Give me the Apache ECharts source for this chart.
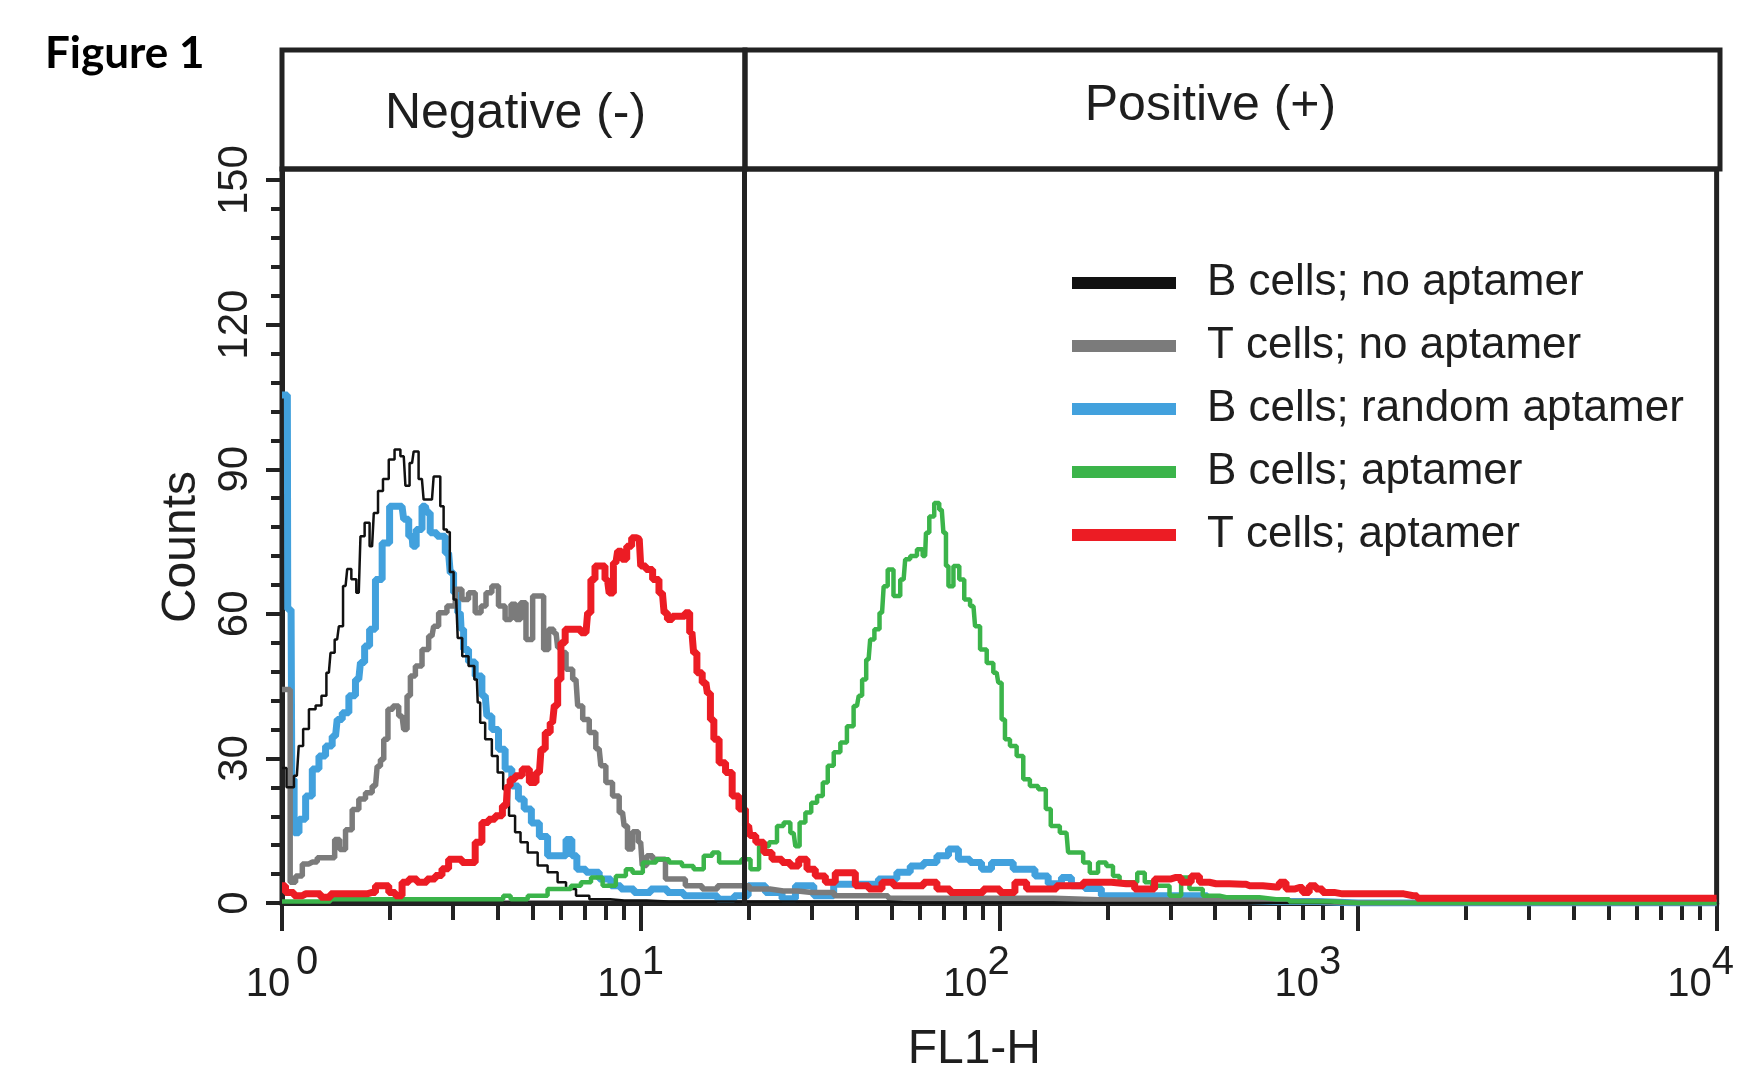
<!DOCTYPE html>
<html>
<head>
<meta charset="utf-8">
<title>Figure 1</title>
<script src="https://cdn.jsdelivr.net/npm/echarts@6/dist/echarts.min.js"></script>
<style>
  html, body { margin: 0; padding: 0; background: #fff; }
  #chart { width: 1737px; height: 1079px; }
</style>
</head>
<body>
<div id="chart"></div>
<script>
// FL1-H histogram values: [FL1-H, counts]
var bNoApt = [
  [1.0, 28], [1.06, 24], [1.10, 26.4], [1.127, 32.6], [1.164, 36.1], [1.214, 40.2], [1.268, 41.0],
  [1.309, 43], [1.351, 47.8], [1.38, 51.9], [1.425, 54.7], [1.456, 57.4], [1.504, 65.8], [1.536, 69.3],
  [1.586, 67.2], [1.637, 64.4], [1.673, 76.1], [1.727, 78.9], [1.783, 74], [1.823, 80.9], [1.882, 85.5],
  [1.943, 88.0], [2.027, 92.0], [2.093, 94.1], [2.185, 92.7], [2.232, 86.6], [2.305, 91.3], [2.353, 93.7],
  [2.455, 88], [2.51, 83.7], [2.619, 83.7], [2.676, 88.5], [2.734, 88.5], [2.792, 82.3], [2.853, 77.5],
  [2.914, 77], [2.96, 68.7], [3.06, 63], [3.12, 55], [3.243, 51.2], [3.383, 49.2], [3.494, 46.4],
  [3.532, 41.6], [3.607, 37.4], [3.765, 34.0], [3.93, 30.5], [4.056, 27.1], [4.22, 23.6], [4.373, 18.1],
  [4.56, 14.7], [4.69, 12.6], [5.0, 10.5], [5.33, 7.8], [5.68, 6.4], [6.06, 4.3], [6.33, 2.9], [6.89, 1.5],
  [7.51, 0.8], [9, 0.5], [12, 0.3], [40, 0.3], [60, 0], [10000, 0]
];
var tNoApt = [
  [1.0, 44.3], [1.04, 44.3], [1.068, 4.3], [1.115, 5.6], [1.164, 8.1], [1.214, 8.5], [1.295, 9.4],
  [1.38, 9.4], [1.425, 13.2], [1.472, 11.1], [1.536, 15.2], [1.603, 19.4], [1.673, 21.6], [1.746, 22.9],
  [1.823, 24.3], [1.862, 28.4], [1.901, 29.8], [1.943, 34], [2.006, 40.2], [2.071, 40.9], [2.161, 38.8],
  [2.208, 36], [2.256, 43], [2.305, 47.1], [2.405, 49.2], [2.51, 52.6], [2.619, 55.4], [2.676, 57.4],
  [2.792, 60.2], [2.977, 61.6], [3.107, 65.1], [3.243, 63], [3.383, 64.4], [3.532, 60.2], [3.647, 61.6],
  [3.765, 64.4], [3.93, 65.8], [4.10, 61.6], [4.28, 58.8], [4.42, 62], [4.56, 58.8], [4.69, 62.3],
  [4.89, 54.7], [5.11, 63.7], [5.28, 63.7], [5.45, 52.6], [5.63, 56.8], [5.81, 56], [5.93, 53],
  [6.06, 52], [6.33, 48.5], [6.60, 46.4], [6.75, 40.9], [7.04, 38.1], [7.34, 35.4], [7.66, 32],
  [7.83, 28.5], [8.17, 25], [8.53, 22.2], [8.90, 18.8], [9.09, 16], [9.29, 11.2], [9.70, 14.8],
  [10.0, 12.6], [10.2, 7.8], [10.6, 9.8], [11.0, 9.1], [12.5, 5], [14.2, 3.6], [15.5, 2.9], [17.3, 3.6],
  [19.2, 3.6], [21, 2.9], [25, 2.5], [30, 2.2], [40, 1.5], [60, 1], [100, 1], [200, 0.6], [400, 0.5],
  [600, 0.3], [1000, 0], [10000, 0]
];
var bRandApt = [
  [1.0, 105.4], [1.035, 105.4], [1.04, 60.9], [1.06, 60.9], [1.07, 25.7], [1.092, 14.6], [1.139, 17.4],
  [1.189, 22.2], [1.241, 27.8], [1.295, 30.5], [1.351, 32.6], [1.41, 34.6], [1.441, 38.1], [1.504, 39.5],
  [1.569, 43], [1.637, 46.4], [1.673, 49.9], [1.727, 53.3], [1.783, 56.8], [1.862, 67.1], [1.943, 74.7],
  [2.049, 82.3], [2.161, 82.3], [2.208, 79.6], [2.305, 76.1], [2.329, 74.0], [2.405, 77.5], [2.51, 82.3],
  [2.56, 81], [2.619, 76.8], [2.792, 76.1], [2.914, 72.6], [2.977, 68.5], [3.041, 64.4], [3.141, 60.2],
  [3.175, 56.8], [3.243, 52.6], [3.383, 50], [3.532, 47.1], [3.687, 43], [3.765, 38.8], [3.93, 36],
  [4.10, 31.9], [4.28, 27.8], [4.467, 24.3], [4.66, 21.6], [4.81, 19.5], [5.11, 16.6], [5.33, 13.8],
  [5.68, 9.8], [6.06, 9.8], [6.33, 13.2], [6.53, 9.8], [6.75, 7], [7.34, 6.4], [8.0, 5], [8.53, 3.6],
  [9.09, 2.9], [10.1, 2.2], [11.25, 2.9], [12.5, 2.2], [13.9, 1.5], [15.5, 1.5], [17.3, 0.8], [19.2, 1.5],
  [20.7, 3.6], [24.0, 2.2], [25.6, 0.9], [28.5, 3.6], [32.4, 1.5], [36.8, 3.9], [42.7, 3.9], [49.6, 5.0],
  [54.1, 6.4], [58.9, 7.7], [64.2, 8.4], [69.9, 9.8], [74.5, 11.2], [79.4, 9.1], [86.5, 8.4], [92, 7],
  [98.3, 8.4], [107, 8.4], [111.7, 7.0], [121.7, 7.0], [129.8, 5.6], [144.3, 4], [153.9, 5.3], [164, 3.6],
  [182.6, 3], [203, 1.5], [361.5, 1.5], [400, 0.5], [600, 0.3], [1000, 0], [10000, 0]
];
var bApt = [
  [1.0, 0.3], [1.86, 0.8], [4.0, 0.8], [4.28, 1.5], [4.4, 0.8], [5.33, 1.5], [5.68, 2.9], [6.19, 2.9],
  [6.60, 3.6], [7.04, 4.3], [7.51, 5.3], [8.17, 3.6], [8.90, 5.6], [9.29, 7], [9.70, 6.3], [10.6, 8.4],
  [11.5, 9.1], [12.5, 8.4], [13.6, 7.7], [14.5, 7], [15.5, 9.8], [16.2, 10.5], [16.9, 8.4], [18.4, 8.4],
  [19.8, 9.1], [20.7, 7], [22.1, 11.8], [23.5, 12.6], [24.5, 16], [25.6, 16.7], [26.7, 14.5], [27.3, 11.8],
  [28.2, 16.7], [29.4, 18.8], [30.4, 20.8], [31.7, 22.2], [32.7, 25], [33.8, 28.5], [35.3, 31.3],
  [36.8, 33.3], [38.4, 36.7], [40.1, 40.9], [41.0, 43], [41.9, 46.4], [43.2, 50.5], [44.1, 54.7],
  [45.6, 56.8], [47.1, 60.2], [48.1, 65.7], [49.6, 69.2], [51.8, 63.7], [54.1, 67.1], [55.2, 71.3],
  [57.7, 72], [60.2, 73.4], [62.1, 72], [62.8, 76.8], [64.8, 80.2], [66.9, 83], [69.1, 81.6], [70.6, 76.8],
  [71.4, 69.9], [72.9, 65.7], [76.1, 69.9], [78.6, 67.1], [81.1, 63], [84.7, 61.6], [86.5, 57.4],
  [90.3, 52.6], [94.2, 49.8], [98.3, 47.8], [100.4, 45.7], [102.6, 38.1], [104.8, 34], [109.4, 32.6],
  [114.2, 30.5], [119.1, 25.7], [124.3, 24.3], [132.6, 23.6], [137, 19.5], [141.3, 16.0], [153.9, 14.6],
  [157.2, 10.5], [167.7, 10.5], [175, 8.4], [182.6, 6.3], [194.6, 8.4], [203, 7.7], [212, 5.6], [221, 4.3],
  [236, 4.3], [249, 6.3], [260, 4.3], [274, 3.6], [286, 3.6], [311, 1.5], [332, 5.3], [346, 2.9],
  [394, 1.5], [429, 1.2], [477, 1.2], [591, 0.8], [700, 0.3], [1000, 0], [10000, 0]
];
var tApt = [
  [1.0, 3.6], [1.046, 2.2], [1.115, 1.5], [1.164, 1.9], [1.241, 1.9], [1.323, 1.2], [1.41, 1.9],
  [1.504, 1.9], [1.673, 1.9], [1.783, 2.2], [1.862, 3.6], [1.943, 3.6], [2.027, 2.2], [2.116, 1.5],
  [2.208, 4.3], [2.305, 5.0], [2.455, 4.3], [2.619, 5.0], [2.734, 5.7], [2.853, 7.1], [2.977, 9.1],
  [3.107, 9.1], [3.243, 8.4], [3.383, 8.4], [3.532, 12.6], [3.687, 16.7], [3.846, 17.4], [4.015, 18.1],
  [4.22, 20.2], [4.28, 24.3], [4.373, 25.7], [4.56, 26.4], [4.79, 27.8], [5.0, 25], [5.22, 27.1],
  [5.33, 31.9], [5.51, 35.4], [5.68, 37.4], [5.81, 41], [5.93, 46.4], [6.06, 54], [6.26, 56.8],
  [6.60, 56.8], [7.04, 56.1], [7.19, 60.2], [7.34, 67.1], [7.58, 69.9], [7.83, 69.9], [8.08, 67.1],
  [8.26, 64.3], [8.53, 70.6], [8.72, 73], [9.0, 71.3], [9.29, 74], [9.59, 75.8], [9.91, 75.5],
  [10.1, 69.9], [10.6, 69.2], [11.0, 67.1], [11.5, 64.3], [11.75, 60.2], [12.0, 58.8], [12.5, 59.5],
  [13.1, 59.5], [13.5, 60.2], [13.9, 56.1], [14.2, 51.9], [14.5, 47.8], [15.2, 45.7], [15.5, 43.5],
  [15.8, 38], [16.2, 34], [16.9, 29.1], [17.6, 27.1], [18.4, 22.2], [19.2, 19.5], [20.0, 16], [20.3, 14],
  [21.6, 12.6], [22.5, 10.5], [24.0, 9.1], [25.6, 8.4], [26.7, 7.7], [28.5, 9.1], [29.7, 7.0], [31.7, 5.6],
  [33.8, 4.3], [36.0, 6.3], [38.4, 6.3], [41.0, 3.6], [45.6, 2.9], [48.6, 4.3], [52.9, 3.6], [58.9, 3.6],
  [64.2, 4.3], [69.9, 2.9], [76.1, 2.2], [86.5, 2.2], [94.2, 2.9], [107, 2.2], [114.2, 4.3], [124.3, 2.9],
  [132.5, 2.9], [157.2, 3.6], [186.6, 4.3], [226, 4.0], [251.5, 2.9], [292, 5.0], [311, 5.3], [332, 4.3],
  [354, 5.6], [369, 4.3], [402, 4.0], [477, 3.9], [498, 3.6], [591, 3.3], [616.6, 4.3], [643.6, 2.9],
  [686, 3.2], [716, 2.2], [747, 3.6], [780, 2.9], [814, 2.2], [905, 1.9], [1262, 1.9], [1426, 1.5],
  [1500, 1.0], [10000, 1.0]
];

var seriesNames = ['B cells; no aptamer', 'T cells; no aptamer', 'B cells; random aptamer', 'B cells; aptamer', 'T cells; aptamer'];
var regionNames = ['Negative (-)', 'Positive (+)'];
var gateValue = 19.4;          // Negative / Positive boundary on FL1-H
var xRange = [1, 10000];
var yMax = 152.3;
var yMajorTicks = [0, 30, 60, 90, 120, 150];
var yMinorTicks = [6, 12, 18, 24, 36, 42, 48, 54, 66, 72, 78, 84, 96, 102, 108, 114, 126, 132, 138, 144];
var xMinorTicks = [2, 3, 4, 5, 6, 7, 8, 9, 20, 30, 40, 50, 60, 70, 80, 90,
  200, 300, 400, 500, 600, 700, 800, 900, 2000, 3000, 4000, 5000, 6000, 7000, 8000, 9000];

var FONT = '"Liberation Sans", Arial, Helvetica, sans-serif';
var INK = '#1e1e1e';
var colors = { bNoApt: '#111111', tNoApt: '#7b7b7b', bRandApt: '#42a1dd', bApt: '#3bb44a', tApt: '#ec1c24' };

var myChart = echarts.init(document.getElementById('chart'), null, { renderer: 'canvas' });

function histSeries(name, data, color, width) {
  return {
    name: name,
    type: 'line',
    xAxisIndex: 0,
    yAxisIndex: 0,
    data: data,
    step: 'middle',
    showSymbol: false,
    symbol: 'none',
    lineStyle: { color: color, width: width },
    itemStyle: { color: color },
    emphasis: { disabled: true }
  };
}

// superscript exponent styles, each nudged like the original labels
var expPad = { e0: [0, 0, 22, 6], e1: [0, 20, 22, 0], e2: [0, 46, 22, 0], e3: [0, 100, 22, 0], e4: [0, 32, 22, 0] };
var richX = { n: { fontSize: 40, fontFamily: FONT, color: INK, verticalAlign: 'bottom' } };
Object.keys(expPad).forEach(function (k) {
  richX[k] = { fontSize: 40, fontFamily: FONT, color: INK, verticalAlign: 'bottom', padding: expPad[k] };
});

var option = {
  animation: false,
  backgroundColor: '#ffffff',
  title: {
    text: 'Figure 1',
    left: 40,
    top: 27,
    textStyle: { fontFamily: 'Lato, "Open Sans", sans-serif', fontWeight: 'bold', fontSize: 44, color: '#000' }
  },
  legend: {
    data: seriesNames,
    orient: 'vertical',
    left: 1072,
    top: 261,
    padding: 0,
    itemWidth: 104,
    itemHeight: 12,
    itemGap: 19,
    icon: 'rect',
    selectedMode: false,
    textStyle: { fontFamily: FONT, fontSize: 44, color: INK, lineHeight: 44, padding: [0, 0, 0, 26] }
  },
  grid: [
    { left: 282, right: 17, top: 169, bottom: 175, show: true, borderColor: '#222', borderWidth: 5, backgroundColor: 'transparent' },
    { left: 282, right: 17, top: 50, height: 119, show: false }
  ],
  xAxis: [
    {
      gridIndex: 0, type: 'log', logBase: 10, min: xRange[0], max: xRange[1], position: 'bottom',
      name: 'FL1-H', nameLocation: 'middle', nameGap: 123,
      nameTextStyle: { fontFamily: FONT, fontSize: 48, color: INK, padding: [0, 50, 0, 0] },
      axisLine: { show: true, lineStyle: { color: '#222', width: 5 } },
      axisTick: { show: true, length: 28, lineStyle: { color: '#222', width: 4 } },
      axisLabel: {
        show: true, margin: 40, showMinLabel: true, showMaxLabel: true,
        formatter: function (v) {
          var e = Math.round(Math.log(v) / Math.LN10);
          return '{n|10}{e' + e + '|' + e + '}';
        },
        rich: richX
      },
      splitLine: { show: false }
    },
    {
      gridIndex: 0, type: 'log', logBase: 10, min: xRange[0], max: xRange[1], position: 'bottom',
      axisLine: { show: false },
      axisTick: { show: true, length: 17, customValues: xMinorTicks, lineStyle: { color: '#222', width: 4 } },
      axisLabel: { show: false },
      splitLine: { show: false }
    },
    { gridIndex: 1, type: 'log', logBase: 10, min: xRange[0], max: xRange[1], show: false }
  ],
  yAxis: [
    {
      gridIndex: 0, type: 'value', min: 0, max: yMax, interval: 30, position: 'left',
      name: 'Counts', nameLocation: 'middle', nameRotate: 90, nameGap: 67,
      nameTextStyle: { fontFamily: FONT, fontSize: 48, color: INK, padding: [0, 22, 0, 0] },
      axisLine: { show: true, lineStyle: { color: '#222', width: 5 } },
      axisTick: { show: true, length: 16, customValues: yMajorTicks, lineStyle: { color: '#222', width: 4 } },
      axisLabel: { show: true, customValues: yMajorTicks, rotate: 90, margin: 26, fontFamily: FONT, fontSize: 42, color: INK },
      splitLine: { show: false }
    },
    {
      gridIndex: 0, type: 'value', min: 0, max: yMax, position: 'left',
      axisLine: { show: false },
      axisTick: { show: true, length: 11, customValues: yMinorTicks, lineStyle: { color: '#222', width: 4 } },
      axisLabel: { show: false },
      splitLine: { show: false }
    },
    { gridIndex: 1, type: 'value', min: 0, max: 1, show: false }
  ],
  series: [
    histSeries(seriesNames[2], bRandApt, colors.bRandApt, 7),
    histSeries(seriesNames[1], tNoApt, colors.tNoApt, 5.5),
    histSeries(seriesNames[0], bNoApt, colors.bNoApt, 2.5),
    histSeries(seriesNames[3], bApt, colors.bApt, 4.5),
    histSeries(seriesNames[4], tApt, colors.tApt, 7),
    {
      // gate divider inside the plot
      type: 'line', xAxisIndex: 0, yAxisIndex: 0, data: [], silent: true,
      markLine: {
        silent: true, symbol: 'none', label: { show: false },
        lineStyle: { color: '#222', width: 5, type: 'solid' },
        data: [{ xAxis: gateValue }]
      }
    },
    {
      // header boxes
      type: 'line', xAxisIndex: 2, yAxisIndex: 2, data: [], silent: true, clip: false,
      markArea: {
        silent: true,
        itemStyle: { color: 'rgba(0,0,0,0)', borderColor: '#222', borderWidth: 5 },
        label: { show: true, position: 'inside', fontFamily: FONT, fontSize: 50, color: INK },
        data: [
          [{ name: regionNames[0], xAxis: xRange[0], yAxis: 0, label: { offset: [2, 5] } }, { xAxis: gateValue, yAxis: 1 }],
          [{ name: regionNames[1], xAxis: gateValue, yAxis: 0, label: { offset: [-22, -3] } }, { xAxis: xRange[1], yAxis: 1 }]
        ]
      }
    }
  ]
};

myChart.setOption(option);
</script>
</body>
</html>
